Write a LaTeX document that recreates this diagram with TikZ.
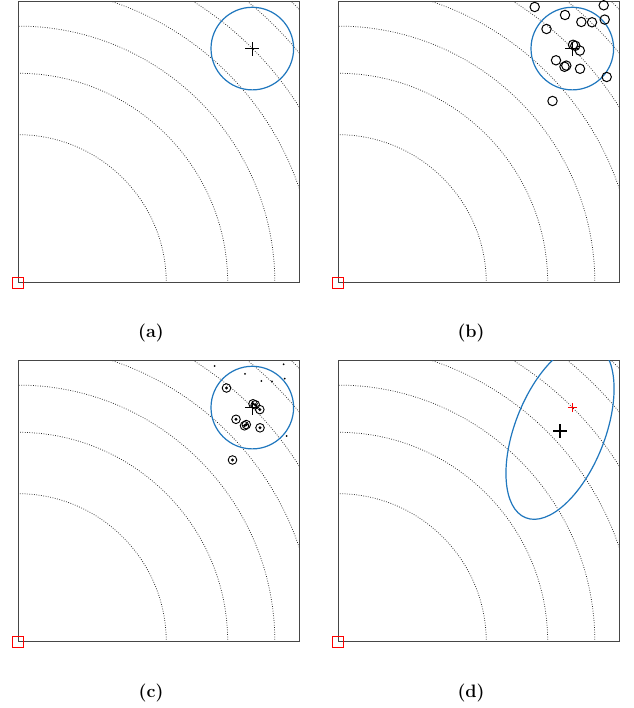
\documentclass[tikz,border=0pt]{standalone}
\usepackage{fontspec}
\definecolor{mblue}{RGB}{31,119,190}
\definecolor{boxgray}{RGB}{70,70,70}
\definecolor{contgray}{RGB}{40,40,40}
\newcommand{\drawpanelbase}{%
  \begin{scope}
    \clip (0,0) rectangle (281,281);
    \foreach \k in {1,...,7} { \draw[contour] (0,0) circle ({148.3*sqrt(\k)}); }
  \end{scope}
  \draw[frame] (0,0) rectangle (281,281);
  \draw[origbox] (-5.35,-5.35) rectangle (5.35,5.35);
}
\begin{document}
\begin{tikzpicture}[x=1pt,y=1pt,
  frame/.style={draw=boxgray, line width=1pt},
  contour/.style={draw=contgray, line width=0.75pt, dash pattern=on 0.75pt off 1.6pt},
  origbox/.style={draw=red, line width=0.7pt},
  distr/.style={draw=mblue, line width=1.2pt},
  meanplus/.style={draw=black, line width=1.6pt},
  newplus/.style={draw=red, line width=1.6pt},
  sample/.style={circle, draw=black, line width=1pt, minimum size=9.4pt, inner sep=0pt},
  selring/.style={circle, draw=black, line width=0.9pt, minimum size=8.6pt, inner sep=0pt},
  seldot/.style={circle, fill=black, minimum size=3.4pt, inner sep=0pt},
  smalldot/.style={circle, fill=black, minimum size=2pt, inner sep=0pt},
  sublabel/.style={font=\fontsize{18}{21}\selectfont\bfseries, inner sep=0pt}
]
\useasboundingbox[fill=white] (0,0) rectangle (633,708);

% ---------- panel (a) ----------
\begin{scope}[shift={(18,425)}]
  \drawpanelbase
  \coordinate (ma) at (234.3,234.4);
  \draw[distr] (ma) circle (41.3);
  \draw[meanplus] ([xshift=-7pt]ma) -- ([xshift=7pt]ma);
  \draw[meanplus] ([yshift=-7pt]ma) -- ([yshift=7pt]ma);
\end{scope}
\node[sublabel] (la) at (151,375) {(a)};

% ---------- panel (b) ----------
\begin{scope}[shift={(338,425)}]
  \drawpanelbase
  \coordinate (mb) at (234.3,234.4);
  \draw[distr] (mb) circle (41.3);
  \draw[meanplus] ([xshift=-7pt]mb) -- ([xshift=7pt]mb);
  \draw[meanplus] ([yshift=-7pt]mb) -- ([yshift=7pt]mb);
  \foreach \n/\px/\py in {1/196.7/276, 2/265.7/277.7, 3/227/268, 4/243.3/261,
      5/254/260.7, 6/266.7/263.4, 7/208.5/254, 8/235/238.2, 9/237.3/237.2,
      10/241.8/232.4, 11/218/222.7, 12/226.5/216.2, 13/228.3/217.4,
      14/242/214.2, 15/268.7/206, 16/214.5/182}
    { \node[sample] (b\n) at (\px,\py) {}; }
\end{scope}
\node[sublabel] (lb) at (471,375) {(b)};

% ---------- panel (c) ----------
\begin{scope}[shift={(18,66)}]
  \drawpanelbase
  \coordinate (mc) at (234.3,234.4);
  \draw[distr] (mc) circle (41.3);
  \foreach \n/\px/\py in {1/196.7/276, 2/265.7/277.7, 3/227/268, 4/243.3/261,
      5/254/260.7, 6/266.7/263.4, 15/268.7/206}
    { \node[smalldot] (c\n) at (\px,\py) {}; }
  \foreach \n/\px/\py in {7/208.5/254, 8/235/238.2, 9/237.3/237.2,
      10/241.8/232.4, 11/218/222.7, 12/226.5/216.2, 13/228.3/217.4,
      14/242/214.2, 16/214.5/182}
    { \node[selring] (c\n) at (\px,\py) {};
      \node[seldot] (cd\n) at (\px,\py) {}; }
  \draw[meanplus] ([xshift=-7pt]mc) -- ([xshift=7pt]mc);
  \draw[meanplus] ([yshift=-7pt]mc) -- ([yshift=7pt]mc);
\end{scope}
\node[sublabel] (lc) at (151,15) {(c)};

% ---------- panel (d) ----------
\begin{scope}[shift={(338,66)}]
  \drawpanelbase
  \coordinate (md) at (222,211);
  \coordinate (mo) at (234.3,234.4);
  \begin{scope}
    \clip (0,0) rectangle (281,281);
    \draw[distr, rotate around={68.4:(md)}] (md) ellipse [x radius=93.3, y radius=44.9];
  \end{scope}
  \draw[meanplus] ([xshift=-7pt]md) -- ([xshift=7pt]md);
  \draw[meanplus] ([yshift=-7pt]md) -- ([yshift=7pt]md);
  \draw[newplus] ([xshift=-4.5pt]mo) -- ([xshift=4.5pt]mo);
  \draw[newplus] ([yshift=-4.5pt]mo) -- ([yshift=4.5pt]mo);
\end{scope}
\node[sublabel] (ld) at (471,15) {(d)};
\end{tikzpicture}
\end{document}
